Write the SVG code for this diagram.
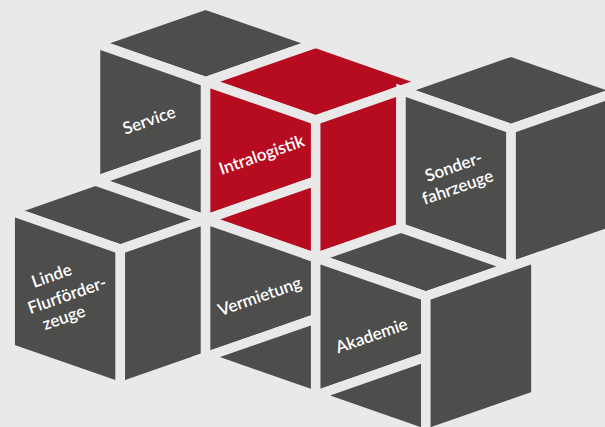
<svg xmlns="http://www.w3.org/2000/svg" width="605" height="427" viewBox="0 0 605 427">
<style>
.g{fill:#4d4d4c;stroke:#e9e9e9;stroke-width:9.5;stroke-linejoin:miter;stroke-miterlimit:6}
.r{fill:#b70b1f;stroke:#e9e9e9;stroke-width:9.5;stroke-linejoin:miter;stroke-miterlimit:6}
.t{fill:#ffffff;font-family:Lato,"Open Sans","Liberation Sans",sans-serif;font-size:17px;font-weight:600;text-anchor:middle}
</style>
<rect width="605" height="427" fill="#e9e9e9"/>
<g id="service">
<polygon class="g" points="205.6,4.9 315.7,43.3 205.6,81.7 95.5,43.3"/>
<polygon class="g" points="95.5,43.3 205.6,81.7 205.6,142.6 95.5,181"/>
<polygon class="g" points="95.5,181 205.6,142.6 205.6,219.4"/>
</g>
<g id="intralogistik">
<polygon class="r" points="315.7,43.3 425.8,81.7 315.7,120.1 205.6,81.7"/>
<polygon class="r" points="205.6,81.7 315.7,120.1 315.7,181 205.6,219.4"/>
<polygon class="r" points="205.6,219.4 315.7,181 315.7,257.8"/>
<polygon class="r" points="315.7,120.1 401,90.35 401,228.05 315.7,257.8"/>
</g>
<g id="sonderfahrzeuge">
<polygon class="g" points="511.1,51.95 621.2,90.35 511.1,128.75 401,90.35"/>
<polygon class="g" points="401,90.35 511.1,128.75 511.1,266.45 401,228.05"/>
<polygon class="g" points="511.1,128.75 621.2,90.35 621.2,228.05 511.1,266.45"/>
</g>
<g id="linde">
<polygon class="g" points="10.2,210.75 95.5,181 205.6,219.4 120.3,249.15"/>
<polygon class="g" points="10.2,210.75 120.3,249.15 120.3,386.85 10.2,348.45"/>
<polygon class="g" points="120.3,249.15 205.6,219.4 205.6,357.1 120.3,386.85"/>
</g>
<g id="vermietung">
<polygon class="g" points="205.6,219.4 315.7,257.8 315.7,318.7 205.6,357.1"/>
<polygon class="g" points="205.6,357.1 315.7,318.7 315.7,395.5"/>
</g>
<g id="akademie">
<polygon class="g" points="315.7,257.8 401,228.05 511.1,266.45 425.8,296.2"/>
<polygon class="g" points="315.7,257.8 425.8,296.2 425.8,357.1 315.7,395.5"/>
<polygon class="g" points="315.7,395.5 425.8,357.1 425.8,433.9"/>
<polygon class="g" points="425.8,296.2 535.9,257.8 535.9,395.5 425.8,433.9"/>
</g>
<g id="labels">
<text class="t" transform="translate(149,120) rotate(-19.24)" y="6">Service</text>
<text class="t" transform="translate(262,156) rotate(-19.24)" y="4.6">Intralogistik</text>
<text class="t" transform="translate(453.5,166.5) rotate(-19.24)" y="6">Sonder-</text>
<text class="t" transform="translate(458,188.5) rotate(-19.24)" y="4.6">fahrzeuge</text>
<text class="t" transform="translate(51.5,275.5) rotate(-19.24)" y="6">Linde</text>
<text class="t" transform="translate(67,295) rotate(-19.24)" y="6">Flurförder-</text>
<text class="t" transform="translate(65,320.5) rotate(-19.24)" y="2.6">zeuge</text>
<text class="t" transform="translate(260,297.5) rotate(-19.24)" y="4.6">Vermietung</text>
<text class="t" transform="translate(371.5,335.5) rotate(-19.24)" y="6">Akademie</text>
</g>
</svg>
